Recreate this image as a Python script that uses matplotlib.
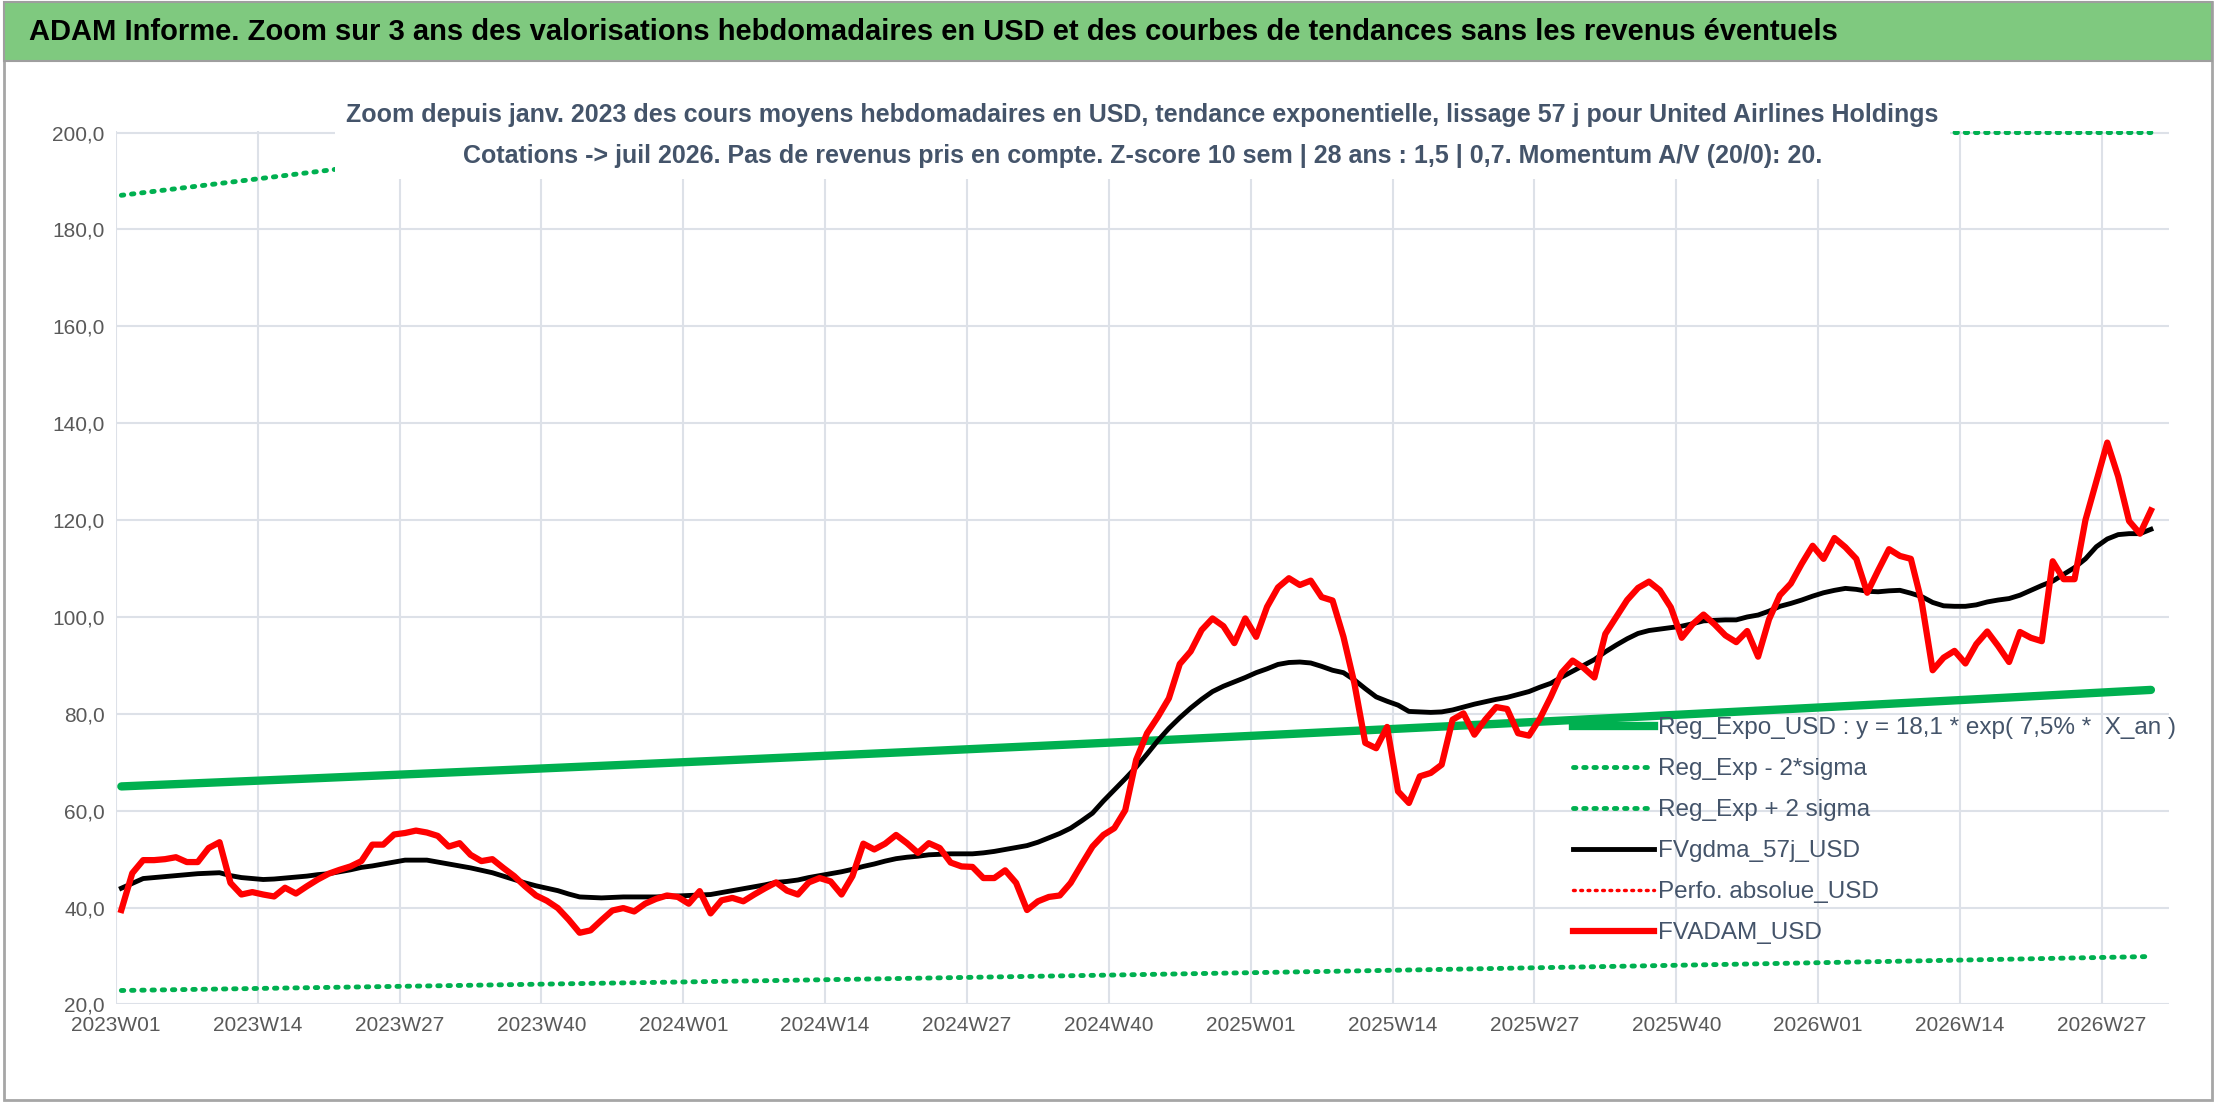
import numpy as np
import matplotlib
matplotlib.use("Agg")
import matplotlib.pyplot as plt
from matplotlib.lines import Line2D
from matplotlib.patches import Rectangle

# ---------------- data ----------------
weeks = [f"{y}W{w:02d}" for y, n in [(2023, 52), (2024, 52), (2025, 52), (2026, 31)] for w in range(1, n + 1)]

fvadam = [39.5, 47.1, 49.8, 49.8, 50, 50.4, 49.4, 49.4, 52.3, 53.5,
          45.1, 42.7, 43.2, 42.7, 42.3, 44.1, 42.9, 44.4, 45.8, 47,
          47.8, 48.5, 49.6, 53, 53, 55.1, 55.4, 55.9, 55.5, 54.8,
          52.6, 53.3, 50.9, 49.6, 50, 48.2, 46.5, 44.4, 42.5, 41.4,
          39.9, 37.5, 34.8, 35.3, 37.4, 39.4, 39.9, 39.2, 40.8, 41.8,
          42.5, 42.2, 40.8, 43.4, 38.8, 41.5, 42, 41.3, 42.7,
          44, 45.2, 43.5, 42.7, 45.2, 46.1, 45.4, 42.7, 46.5, 53.2,
          52, 53.2, 55, 53.3, 51.3, 53.3, 52.3, 49.3, 48.5, 48.4,
          46.1, 46.1, 47.7, 45.1, 39.5, 41.3, 42.2, 42.5, 45.1, 48.9,
          52.6, 55, 56.4, 60.1, 70.5, 76, 79.4, 83.2, 90.3, 92.9,
          97.3, 99.7, 98.1, 94.6, 99.7, 95.9, 102.1, 106.1, 108, 106.6,
          107.5, 104.1, 103.4, 95.9, 86.3, 74, 72.9, 77.3, 64, 61.6,
          67.1, 67.8, 69.5, 78.8, 80.1, 75.7, 78.8, 81.4,
          81, 76, 75.5, 79, 83.5, 88.5, 91, 89.5, 87.5, 96.5,
          100, 103.5, 106, 107.3, 105.5, 102, 95.7, 98.5, 100.5, 98.5,
          96.2, 94.8, 97.1, 91.8, 99.5, 104.5, 106.9, 111, 114.7, 112,
          116.3, 114.4, 112, 105, 109.6, 114, 112.6, 112, 103, 89,
          91.6, 93, 90.4, 94.4, 97, 94, 90.7, 96.9, 95.7, 95,
          111.5, 107.8, 107.8, 120, 128, 136, 129, 119.8, 117.2, 122]

fvgdma = [44, 45, 46, 46.2, 46.4, 46.6, 46.8, 47, 47.1, 47.2,
          46.6, 46.2, 46, 45.8, 45.9, 46.1, 46.3, 46.5, 46.8, 47,
          47.4, 47.8, 48.3, 48.6, 49, 49.4, 49.8, 49.8, 49.8, 49.4,
          49, 48.6, 48.2, 47.7, 47.2, 46.5, 45.8, 45.1, 44.5, 44,
          43.5, 42.8, 42.2, 42.1, 42, 42.1, 42.2, 42.2, 42.2, 42.2,
          42.3, 42.4, 42.5, 42.6, 42.7, 43.1, 43.5, 43.9, 44.3, 44.7,
          45.2, 45.4, 45.7, 46.2, 46.6, 47, 47.4, 47.9, 48.5, 49,
          49.6, 50.1, 50.4, 50.6, 50.9, 51, 51.1, 51.1, 51.1, 51.3,
          51.6, 52, 52.4, 52.8, 53.5, 54.4, 55.3, 56.4, 57.9, 59.5,
          62, 64.3, 66.6, 69, 71.7, 74.5, 77, 79.2, 81.2, 83,
          84.6, 85.7, 86.6, 87.5, 88.5, 89.3, 90.2, 90.6, 90.7, 90.5,
          89.8, 89, 88.5, 87, 85.2, 83.5, 82.6, 81.8, 80.5, 80.4,
          80.3, 80.4, 80.8, 81.4, 82, 82.5, 83, 83.4, 84, 84.6,
          85.5, 86.3, 87.6, 88.8, 90, 91.2, 92.8, 94.2, 95.5, 96.6,
          97.2, 97.5, 97.8, 98.1, 98.6, 99.2, 99.3, 99.4, 99.4, 100,
          100.4, 101.2, 102.2, 102.8, 103.5, 104.3, 105, 105.5, 105.9, 105.7,
          105.3, 105.2, 105.4, 105.5, 104.9, 104.2, 103, 102.3, 102.2, 102.2,
          102.5, 103.1, 103.5, 103.8, 104.5, 105.5, 106.5, 107.4, 108.8, 110.2,
          112, 114.5, 116.1, 117, 117.2, 117.2, 118.1]

reg_a = 18.1          # from legend
reg_rate = 0.075      # 7,5 %
x_an_start = 17.05    # years at 2023W01
band_up = 2.877
band_dn = 0.352

n = len(fvadam)
idx = np.arange(n)
x_an = x_an_start + idx / 52.18
reg = reg_a * np.exp(reg_rate * x_an)
reg_up = reg * band_up
reg_dn = reg * band_dn

YMAX = 200

# ---------------- figure ----------------
plt.rcParams['font.family'] = ['Liberation Sans', 'DejaVu Sans']
fig = plt.figure(figsize=(22.16, 11.02), dpi=100)

fig.patches.append(Rectangle((0.002, 0.002), 0.996, 0.996, transform=fig.transFigure,
                             fill=False, edgecolor='#a6a6a6', lw=2))
fig.patches.append(Rectangle((0.002, 0.945), 0.996, 0.053, transform=fig.transFigure,
                             facecolor='#7fc97f', edgecolor='#9e9e9e', lw=1.5))
fig.text(0.013, 0.971, "ADAM Informe. Zoom sur 3 ans des valorisations hebdomadaires en USD et des courbes de tendances sans les revenus éventuels",
         fontsize=21, fontweight='bold', color='black', va='center', ha='left')

ax = fig.add_axes([0.0523, 0.0885, 0.9267, 0.7925])
dot = (0, (0.5, 1.6))
ax.plot(idx, reg, color='#00b050', lw=6, solid_capstyle='round', zorder=3)
ax.plot(idx, reg_dn, color='#00b050', lw=3.5, ls=dot, dash_capstyle='round', zorder=3)
ax.plot(idx, np.minimum(reg_up, YMAX), color='#00b050', lw=3.5, ls=dot, dash_capstyle='round', zorder=3)
ax.plot(idx, fvgdma, color='black', lw=3.5, zorder=4)
ax.plot(idx, fvadam, color='#ff0000', lw=4.5, zorder=5)

ax.set_xlim(-0.5, 187.7)
ax.set_ylim(20, YMAX + 0.3)
ax.set_yticks(np.arange(20, 201, 20))
ax.set_yticklabels([f"{v:.1f}".replace('.', ',') for v in np.arange(20, 201, 20)])
tick_pos = list(range(0, n, 13))
ax.set_xticks([p - 0.5 for p in tick_pos])
ax.set_xticklabels([weeks[p] for p in tick_pos])
ax.tick_params(axis='both', length=0, labelsize=15, colors='#595959', pad=8)
ax.grid(True, color='#dde1e8', lw=1.5)
ax.set_axisbelow(True)
for s in ax.spines.values():
    s.set_visible(False)

ax.text(0.5, 0.995, "Zoom depuis janv. 2023 des cours moyens hebdomadaires en USD, tendance exponentielle, lissage 57 j pour United Airlines Holdings\n"
        "Cotations -> juil 2026. Pas de revenus pris en compte. Z-score 10 sem | 28 ans : 1,5 | 0,7. Momentum A/V (20/0): 20.",
        transform=ax.transAxes, ha='center', va='center', fontsize=18, fontweight='bold', color='#44546a',
        linespacing=1.85, zorder=10,
        bbox=dict(facecolor='white', edgecolor='none', pad=8))

handles = [
    Line2D([], [], color='#00b050', lw=6),
    Line2D([], [], color='#00b050', lw=3.5, ls=dot, dash_capstyle='round'),
    Line2D([], [], color='#00b050', lw=3.5, ls=dot, dash_capstyle='round'),
    Line2D([], [], color='black', lw=3.5),
    Line2D([], [], color='#ff0000', lw=2.5, ls=dot, dash_capstyle='round'),
    Line2D([], [], color='#ff0000', lw=4.5),
]
labels = ["Reg_Expo_USD : y = 18,1 * exp( 7,5% *  X_an )", "Reg_Exp - 2*sigma", "Reg_Exp + 2 sigma",
          "FVgdma_57j_USD", "Perfo. absolue_USD", "FVADAM_USD"]
leg = ax.legend(handles, labels, loc='upper left', bbox_to_anchor=(0.705, 0.34), frameon=False,
                fontsize=17.5, labelcolor='#44546a', handlelength=3.3, handletextpad=0.2,
                labelspacing=0.78, borderaxespad=0)
leg.set_zorder(6)

fig.savefig("out.png", dpi=100)
